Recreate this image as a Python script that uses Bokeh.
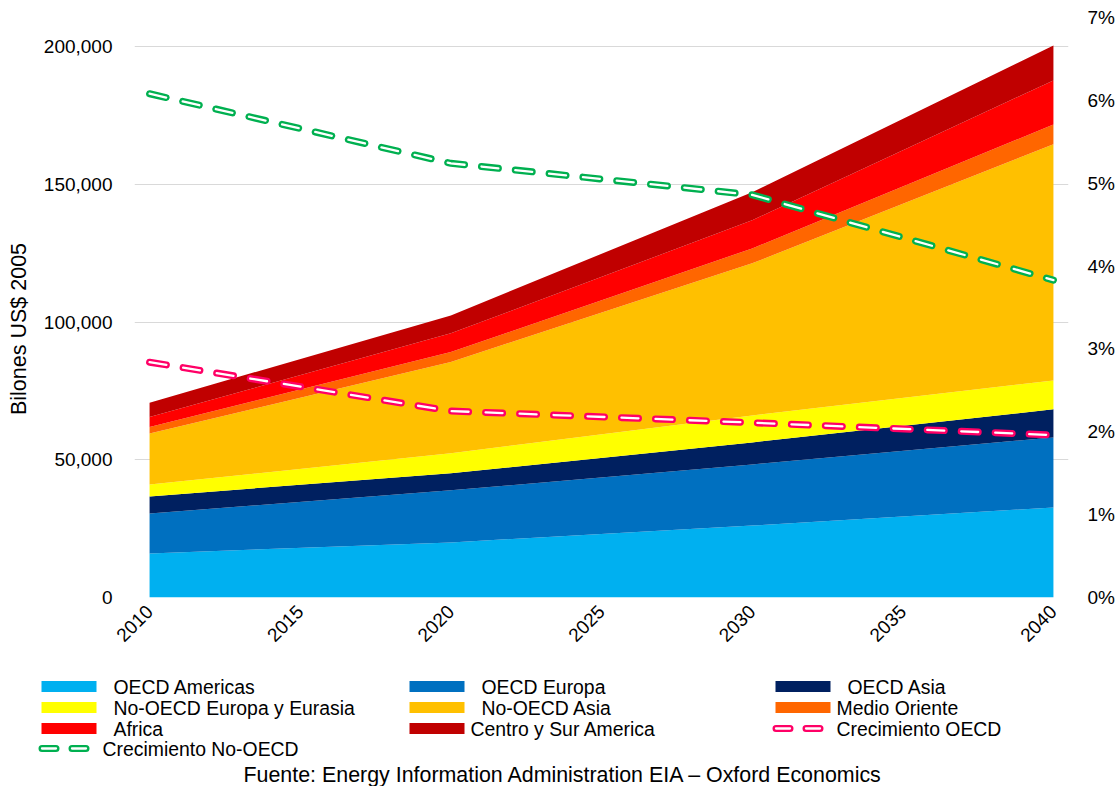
import numpy as np
from bokeh.plotting import figure
from bokeh.models import (ColumnDataSource, Range1d, LinearAxis, FixedTicker,
                          NumeralTickFormatter)
from bokeh.layouts import column, row
from bokeh.core.properties import value
from bokeh.embed import file_html
from bokeh.resources import INLINE

# --- data: GDP by region (billions of 2005 US$) and growth rates (%) ---
years = [2010, 2020, 2030, 2040]

oecd_americas = [16000, 20000, 26100, 32700]
oecd_europa = [14500, 18900, 22200, 25400]
oecd_asia = [6200, 6200, 8000, 10200]
nooecd_europa_eurasia = [4300, 7300, 9800, 10500]
nooecd_asia = [18500, 33100, 55200, 85700]
medio_oriente = [2400, 3600, 5400, 7200]
africa = [3600, 6800, 10200, 16000]
centro_sur_america = [5200, 6500, 10200, 12700]

crecimiento_oecd = [2.84, 2.25, 2.11, 1.96]
crecimiento_nooecd = [6.08, 5.24, 4.86, 3.83]

series_names = ["OECD Americas", "OECD Europa", "OECD Asia",
                "No-OECD Europa y Eurasia", "No-OECD Asia", "Medio Oriente",
                "Africa", "Centro y Sur America"]
series_keys = ["am", "eu", "as", "eue", "nas", "mo", "af", "csa"]
series_values = [oecd_americas, oecd_europa, oecd_asia, nooecd_europa_eurasia,
                 nooecd_asia, medio_oriente, africa, centro_sur_america]
series_colors = ["#00B0F0", "#0070C0", "#002060", "#FFFF00",
                 "#FFC000", "#FF6600", "#FF0000", "#C00000"]

line_names = ["Crecimiento OECD", "Crecimiento No-OECD"]
line_colors = ["#FF0066", "#00B050"]

left_ticks = [0, 50000, 100000, 150000, 200000]
right_ticks = [0, 1, 2, 3, 4, 5, 6, 7]
x_ticks = [2010, 2015, 2020, 2025, 2030, 2035, 2040]

y_title = "Bilones US$ 2005"
source_text = "Fuente: Energy Information Administration EIA \u2013 Oxford Economics"

FONT = value("Liberation Sans")

W, H = 1119, 660
TW = 40  # strip holding the vertical axis title


def blank(width, height):
    f = figure(width=width, height=height, output_backend="svg",
               toolbar_location=None, x_range=Range1d(0, width),
               y_range=Range1d(height, 0), x_axis_type=None,
               y_axis_type=None, min_border=0)
    f.frame_align = False
    f.outline_line_color = None
    f.xgrid.grid_line_color = None
    f.ygrid.grid_line_color = None
    return f


# --- vertical axis title ---
tfig = blank(TW, H)
tfig.text(x=[18], y=[328.5], text=[y_title], angle=np.pi / 2,
          text_font=FONT, text_font_size="21.5px", text_align="center",
          text_baseline="middle", text_color="black")

# --- main chart ---
data = {"year": years}
for k, v in zip(series_keys, series_values):
    data[k] = v
data["g_oecd"] = np.array(crecimiento_oecd) / 100.0
data["g_nooecd"] = np.array(crecimiento_nooecd) / 100.0
src = ColumnDataSource(data)

Y_MAX = 210530
p = figure(width=W - TW, height=H, output_backend="svg", toolbar_location=None,
           x_range=Range1d(2009.5, 2040.5), y_range=Range1d(0, Y_MAX),
           min_border_left=132 - TW, min_border_right=51, min_border_top=17,
           min_border_bottom=63)
p.frame_align = False
p.outline_line_color = None
p.background_fill_color = "white"
p.border_fill_color = "white"

p.varea_stack(stackers=series_keys, x="year", color=series_colors, source=src)

p.extra_y_ranges = {"pct": Range1d(0, 0.07)}


def dashed_double(ycol, color):
    # capsule-shaped dashes: wide coloured stroke with a thin light core
    p.line("year", ycol, source=src, y_range_name="pct", line_color=color,
           line_width=7, line_dash="17 17", line_cap="round", line_join="round")
    p.line("year", ycol, source=src, y_range_name="pct", line_color="white",
           line_width=2.3, line_dash="17 17", line_cap="round", line_join="round")


dashed_double("g_oecd", line_colors[0])
dashed_double("g_nooecd", line_colors[1])

# axes
xa = p.xaxis[0]
xa.ticker = FixedTicker(ticks=x_ticks)
xa.major_label_orientation = np.pi / 4
xa.axis_line_color = None
xa.major_tick_line_color = None
xa.minor_tick_line_color = None
xa.major_label_text_font = "Liberation Sans"
xa.major_label_text_font_size = "19px"
xa.major_label_text_color = "black"
xa.major_label_standoff = 5

ya = p.yaxis[0]
ya.ticker = FixedTicker(ticks=left_ticks)
ya.formatter = NumeralTickFormatter(format="0,0")
ya.axis_line_color = None
ya.major_tick_line_color = None
ya.minor_tick_line_color = None
ya.major_label_text_font = "Liberation Sans"
ya.major_label_text_font_size = "19px"
ya.major_label_text_color = "black"
ya.major_label_standoff = 16

ra = LinearAxis(y_range_name="pct",
                ticker=FixedTicker(ticks=[t / 100.0 for t in right_ticks]),
                formatter=NumeralTickFormatter(format="0%"))
ra.axis_line_color = None
ra.major_tick_line_color = None
ra.minor_tick_line_color = None
ra.major_label_text_font = "Liberation Sans"
ra.major_label_text_font_size = "19px"
ra.major_label_text_color = "black"
ra.major_label_standoff = 13
p.add_layout(ra, "right")

p.xgrid.grid_line_color = None
p.ygrid.grid_line_color = "#D9D9D9"
p.ygrid.grid_line_width = 1

# --- legend and source note ---
LH = 786 - H
leg = blank(W, LH)

col_left = [41, 409, 775]
row_y = [26, 47, 68, 88]
swatch_w = 55
# (column, row, indented label) for each area entry
area_slots = [(0, 0, True), (1, 0, True), (2, 0, True),
              (0, 1, True), (1, 1, True), (2, 1, False),
              (0, 2, True), (1, 2, False)]
line_slots = [(2, 2), (0, 3)]

sx0, sx1, sy0, sy1, tx, ty, tt = [], [], [], [], [], [], []
for (c, r, ind), name in zip(area_slots, series_names):
    sx0.append(col_left[c])
    sx1.append(col_left[c] + swatch_w)
    sy0.append(row_y[r] - 5.5)
    sy1.append(row_y[r] + 5.5)
    tx.append(col_left[c] + swatch_w + (17 if ind else 6))
    ty.append(row_y[r])
    tt.append(name)
leg.quad(left=sx0, right=sx1, bottom=sy0, top=sy1, color=series_colors,
         line_color=None)

for (c, r), name, colr in zip(line_slots, line_names, line_colors):
    x0 = col_left[c] + 0.5
    xs = [x0, x0 + 45]
    ys = [row_y[r], row_y[r]]
    leg.line(xs, ys, line_color=colr, line_width=7, line_dash="14 16",
             line_cap="round")
    leg.line(xs, ys, line_color="white", line_width=2.3, line_dash="14 16",
             line_cap="round")
    tx.append(col_left[c] + swatch_w + 6)
    ty.append(row_y[r])
    tt.append(name)

leg.text(x=tx, y=ty, text=tt, text_font=FONT, text_font_size="19.4px",
         text_baseline="middle", text_align="left", text_color="black")
leg.text(x=[243], y=[114], text=[source_text], text_font=FONT,
         text_font_size="21.4px", text_baseline="middle", text_align="left",
         text_color="black")

layout = column(row(tfig, p, spacing=0), leg, spacing=0)
open("out.html", "w").write(file_html(layout, INLINE))
